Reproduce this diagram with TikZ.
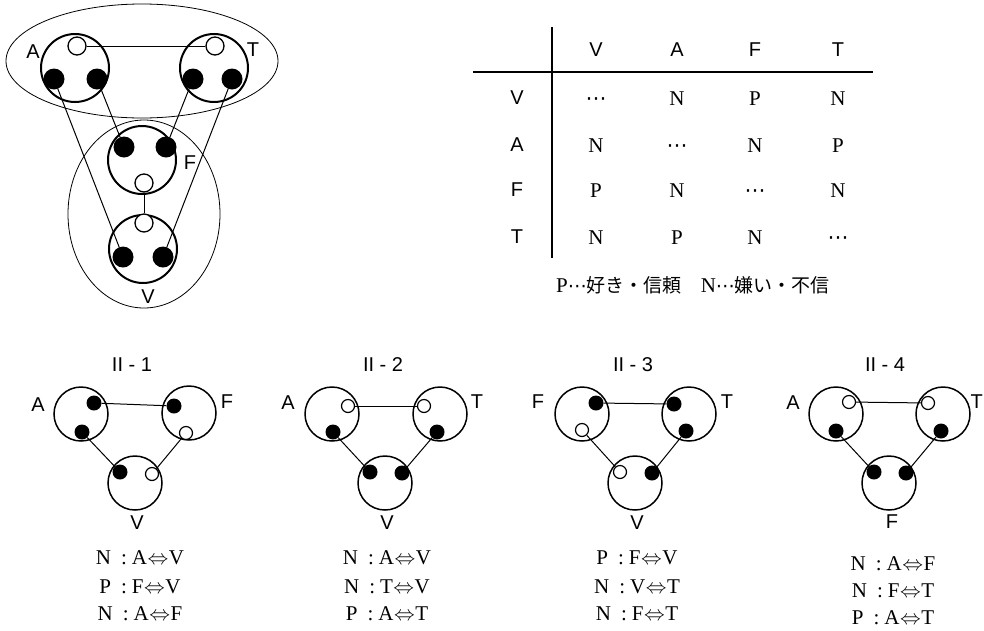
\documentclass[tikz,border=0pt]{standalone}
\usepackage{fontspec}
\setmainfont{Liberation Serif}
\setsansfont{Liberation Sans}
\newfontfamily\cjk{Noto Sans CJK JP}
\newfontfamily\djv{DejaVu Sans}
\usetikzlibrary{shapes.geometric}
\newcommand{\mdots}{{\djv ⋯}}
\newcommand{\pairrel}[3]{#1\hspace{10pt}:\hspace{5pt}#2\hspace{0.5pt}$\Leftrightarrow$\hspace{0.5pt}#3}
\begin{document}
\begin{tikzpicture}[x=1pt,y=-1pt,
  group/.style={draw, ellipse, line width=0.8pt, inner sep=0pt},
  bigp/.style={circle, draw, line width=2pt, minimum size=68pt, inner sep=0pt},
  bdot/.style={circle, fill=black, minimum size=21pt, inner sep=0pt},
  wdot/.style={circle, draw, fill=white, line width=1.3pt, minimum size=18pt, inner sep=0pt},
  link/.style={line width=1pt},
  smallp/.style={circle, draw, line width=1.5pt, minimum size=54pt, inner sep=0pt},
  sbdot/.style={circle, fill=black, minimum size=15pt, inner sep=0pt},
  swdot/.style={circle, draw, fill=white, line width=1.2pt, minimum size=13pt, inner sep=0pt},
  slink/.style={line width=1pt},
  lab/.style={font=\sffamily\fontsize{20}{20}\selectfont, inner sep=0pt},
  cell/.style={font=\fontsize{21}{21}\selectfont, inner sep=0pt, anchor=base},
  keytext/.style={font=\fontsize{19}{19}\selectfont, inner sep=0pt, anchor=base},
  rel/.style={font=\fontsize{21}{21}\selectfont, inner sep=0pt, anchor=base},
  rule/.style={line width=1.6pt}
]
\useasboundingbox (0,0) rectangle (984,630);

% ---------- four-person structure with groupings ----------
\node[group, minimum width=272pt, minimum height=114pt] (gAT) at (142,61) {};
\node[group, minimum width=152pt, minimum height=188pt] (gFV) at (144,214) {};

\node[bigp] (pA) at (75,68) {};
\node[bigp] (pT) at (214,68) {};
\node[bigp] (pF) at (142,160) {};
\node[bigp] (pV) at (143,249) {};

\node[wdot] (wa) at (77,46) {};
\node[bdot] (ba1) at (54,79) {};
\node[bdot] (ba2) at (97,79) {};
\node[wdot] (wt) at (215,46) {};
\node[bdot] (bt1) at (193,79) {};
\node[bdot] (bt2) at (232,79) {};
\node[bdot] (bf1) at (124,147) {};
\node[bdot] (bf2) at (166,147) {};
\node[wdot] (wf) at (144,183) {};
\node[wdot] (wv) at (144,223) {};
\node[bdot] (bv1) at (123,257) {};
\node[bdot] (bv2) at (163,257) {};

\draw[link] (wa) -- (wt);
\draw[link] (ba1) -- (bv1);
\draw[link] (ba2) -- (bf1);
\draw[link] (bt1) -- (bf2);
\draw[link] (bt2) -- (bv2);
\draw[link] (wf) -- (wv);

\node[lab] (lA) at (33,52) {A};
\node[lab] (lT) at (253,50) {T};
\node[lab] (lF) at (190,163) {F};
\node[lab] (lV) at (148,297) {V};

% ---------- relation table ----------
\coordinate (vtop) at (552,27);
\coordinate (vbot) at (552,258);
\coordinate (hl) at (473,72);
\coordinate (hr) at (873,72);
\draw[rule] (vtop) -- (vbot);
\draw[rule] (hl) -- (hr);

\node[lab] (hV) at (596,50) {V};
\node[lab] (hA) at (677,50) {A};
\node[lab] (hF) at (755,50) {F};
\node[lab] (hT) at (838,50) {T};

\node[lab] (rV) at (517,98) {V};
\node[lab] (rA) at (517,145) {A};
\node[lab] (rF) at (517,190) {F};
\node[lab] (rT) at (517,237) {T};

% cell texts sit on a common baseline per row
\node[cell] (c11) at (596,105) {\mdots};
\node[cell] (c12) at (677,105) {N};
\node[cell] (c13) at (755,105) {P};
\node[cell] (c14) at (838,105) {N};
\node[cell] (c21) at (596,152) {N};
\node[cell] (c22) at (677,152) {\mdots};
\node[cell] (c23) at (755,152) {N};
\node[cell] (c24) at (838,152) {P};
\node[cell] (c31) at (596,197) {P};
\node[cell] (c32) at (677,197) {N};
\node[cell] (c33) at (755,197) {\mdots};
\node[cell] (c34) at (838,197) {N};
\node[cell] (c41) at (596,244) {N};
\node[cell] (c42) at (677,244) {P};
\node[cell] (c43) at (755,244) {N};
\node[cell] (c44) at (838,244) {\mdots};

\node[keytext] (key) at (693,292) {{\fontsize{21}{21}\selectfont P}\mdots{\cjk 好き・信頼}\quad {\fontsize{21}{21}\selectfont N}\mdots{\cjk 嫌い・不信}};

% ---------- II-1 ----------
\node[lab] (t1) at (132,365) {II - 1};
\node[smallp] (p1A) at (81,414) {};
\node[smallp] (p1F) at (189,413) {};
\node[smallp] (p1V) at (135,483) {};
\node[sbdot] (d1a1) at (94,403) {};
\node[sbdot] (d1a2) at (82,432) {};
\node[sbdot] (d1f1) at (174,406) {};
\node[swdot] (d1f2) at (186,433) {};
\node[sbdot] (d1v1) at (120,472) {};
\node[swdot] (d1v2) at (152,474) {};
\draw[slink] (d1a1) -- (d1f1);
\draw[slink] (d1a2) -- (d1v1);
\draw[slink] (d1f2) -- (d1v2);
\node[lab] (l1A) at (38,405) {A};
\node[lab] (l1F) at (227,402) {F};
\node[lab] (l1V) at (137,523) {V};
\node[rel] (r1a) at (140,564) {\pairrel{N}{A}{V}};
\node[rel] (r1b) at (140,593) {\pairrel{P}{F}{V}};
\node[rel] (r1c) at (140,620) {\pairrel{N}{A}{F}};

% ---------- II-2 ----------
\node[lab] (t2) at (383,365) {II - 2};
\node[smallp] (p2A) at (332,414) {};
\node[smallp] (p2T) at (440,414) {};
\node[smallp] (p2V) at (385,483) {};
\node[swdot] (d2a1) at (348,406) {};
\node[sbdot] (d2a2) at (333,432) {};
\node[swdot] (d2t1) at (424,406) {};
\node[sbdot] (d2t2) at (437,432) {};
\node[sbdot] (d2v1) at (370,472) {};
\node[sbdot] (d2v2) at (402,473) {};
\draw[slink] (d2a1) -- (d2t1);
\draw[slink] (d2a2) -- (d2v1);
\draw[slink] (d2t2) -- (d2v2);
\node[lab] (l2A) at (288,403) {A};
\node[lab] (l2T) at (477,402) {T};
\node[lab] (l2V) at (387,523) {V};
\node[rel] (r2a) at (387,564) {\pairrel{N}{A}{V}};
\node[rel] (r2b) at (387,593) {\pairrel{N}{T}{V}};
\node[rel] (r2c) at (387,620) {\pairrel{P}{A}{T}};

% ---------- II-3 ----------
\node[lab] (t3) at (633,365) {II - 3};
\node[smallp] (p3F) at (582,414) {};
\node[smallp] (p3T) at (689,414) {};
\node[smallp] (p3V) at (635,483) {};
\node[sbdot] (d3f1) at (596,403) {};
\node[swdot] (d3f2) at (582,430) {};
\node[sbdot] (d3t1) at (674,404) {};
\node[sbdot] (d3t2) at (686,431) {};
\node[swdot] (d3v1) at (620,472) {};
\node[sbdot] (d3v2) at (652,473) {};
\draw[slink] (d3f1) -- (d3t1);
\draw[slink] (d3f2) -- (d3v1);
\draw[slink] (d3t2) -- (d3v2);
\node[lab] (l3F) at (538,402) {F};
\node[lab] (l3T) at (727,402) {T};
\node[lab] (l3V) at (637,523) {V};
\node[rel] (r3a) at (637,564) {\pairrel{P}{F}{V}};
\node[rel] (r3b) at (637,593) {\pairrel{N}{V}{T}};
\node[rel] (r3c) at (637,620) {\pairrel{N}{F}{T}};

% ---------- II-4 ----------
\node[lab] (t4) at (885,365) {II - 4};
\node[smallp] (p4A) at (836,414) {};
\node[smallp] (p4T) at (943,414) {};
\node[smallp] (p4F) at (889,483) {};
\node[swdot] (d4a1) at (849,402) {};
\node[sbdot] (d4a2) at (836,431) {};
\node[swdot] (d4t1) at (928,403) {};
\node[sbdot] (d4t2) at (941,431) {};
\node[sbdot] (d4f1) at (874,472) {};
\node[sbdot] (d4f2) at (906,473) {};
\draw[slink] (d4a1) -- (d4t1);
\draw[slink] (d4a2) -- (d4f1);
\draw[slink] (d4t2) -- (d4f2);
\node[lab] (l4A) at (793,403) {A};
\node[lab, anchor=east] (l4T) at (983,402) {T};
\node[lab] (l4F) at (892,522) {F};
\node[rel] (r4a) at (893,570) {\pairrel{N}{A}{F}};
\node[rel] (r4b) at (893,597) {\pairrel{N}{F}{T}};
\node[rel] (r4c) at (893,624) {\pairrel{P}{A}{T}};
\end{tikzpicture}
\end{document}
